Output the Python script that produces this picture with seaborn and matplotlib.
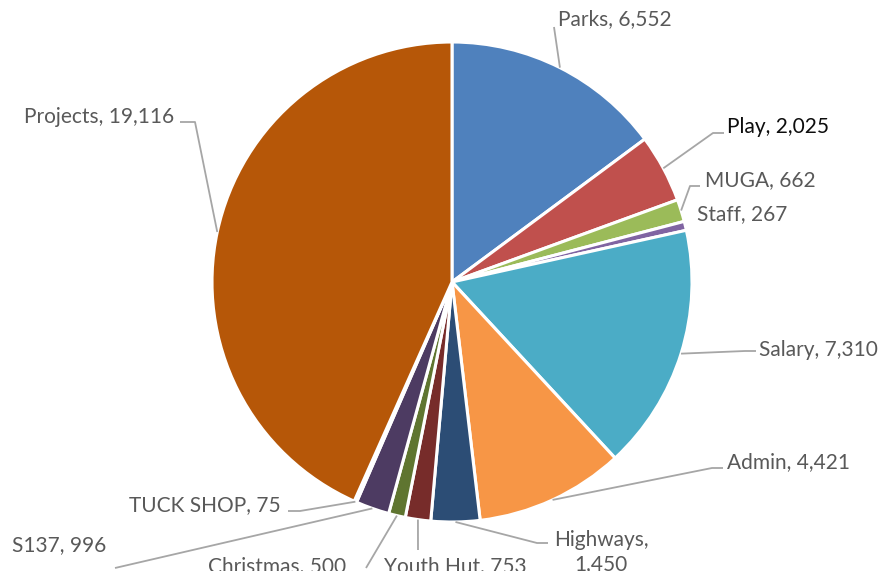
import numpy as np
import matplotlib
matplotlib.use("Agg")
import matplotlib.pyplot as plt
import seaborn as sns

categories = ["Parks", "Play", "MUGA", "Staff", "Salary", "Admin", "Highways",
              "Youth Hut", "Christmas", "S137", "TUCK SHOP", "Projects"]
values = [6552, 2025, 662, 267, 7310, 4421, 1450, 753, 500, 996, 75, 19116]
label_texts = ["Parks, 6,552", "Play, 2,025", "MUGA, 662", "Staff, 267", "Salary, 7,310",
               "Admin, 4,421", "Highways,\n1,450", "Youth Hut, 753", "Christmas, 500",
               "S137, 996", "TUCK SHOP, 75", "Projects, 19,116"]
hex_colors = ["#4F81BD", "#C0504D", "#9BBB59", "#8064A2", "#4BACC6", "#F79646",
              "#2C4D75", "#772C2A", "#5F7530", "#4D3B62", "#276A7C", "#B65708"]

sns.set_theme(style="white")
plt.rcParams['font.family'] = ['Lato', 'DejaVu Sans']
palette = sns.color_palette(hex_colors)

W, H = 888, 571
CX, CY, R = 452, 282, 240

fig = plt.figure(figsize=(W / 100, H / 100), dpi=100)
ax = fig.add_axes([0, 0, 1, 1])

wedges, _ = ax.pie(values, colors=palette, startangle=90, counterclock=False,
                   radius=1.0, center=(0, 0), frame=True,
                   wedgeprops=dict(edgecolor='white', linewidth=2.2))
ax.set_xlim(-CX / R, (W - CX) / R)
ax.set_ylim(-(H - CY) / R, CY / R)
ax.set_aspect('equal')
ax.axis('off')


def p2d(px, py):
    return ((px - CX) / R, (CY - py) / R)


# layout: text anchor (px), ha, leader points after the slice edge (px)
layout = [
    ((558, 19), 'left', [(554, 27)]),
    ((727, 127), 'left', [(713, 133), (724, 133)]),
    ((705, 180), 'left', [(690, 186), (700, 186)]),
    ((697, 214), 'left', []),
    ((759, 350), 'left', [(745, 351), (756, 351)]),
    ((727, 462), 'left', [(712, 468), (723, 468)]),
    ((601, 552), 'center', [(537, 543), (548, 543)]),
    ((455, 566), 'center', [(418, 550)]),
    ((346, 566), 'right', [(366, 568)]),
    ((106, 545), 'right', [(115, 568)]),
    ((281, 505), 'right', [(300, 511), (288, 511)]),
    ((174, 117), 'right', [(195, 122), (180, 122)]),
]

total = float(sum(values))
cum = 0.0
for i, v in enumerate(values):
    mid = (cum + v / 2) / total * 360.0
    cum += v
    theta = np.deg2rad(90 - mid)
    sx, sy = np.cos(theta), np.sin(theta)
    (tx, ty), ha, pts = layout[i]
    if pts:
        xs = [sx] + [p2d(*p)[0] for p in pts]
        ys = [sy] + [p2d(*p)[1] for p in pts]
        ax.plot(xs, ys, color='#A6A6A6', lw=1.3, solid_capstyle='butt', zorder=1)
    col = '#0D0D0D' if categories[i] == 'Play' else '#595959'
    dx, dy = p2d(tx, ty)
    ax.text(dx, dy, label_texts[i], ha=ha, va='center', fontsize=15,
            color=col, linespacing=1.2)

fig.savefig("out.png", dpi=100)
